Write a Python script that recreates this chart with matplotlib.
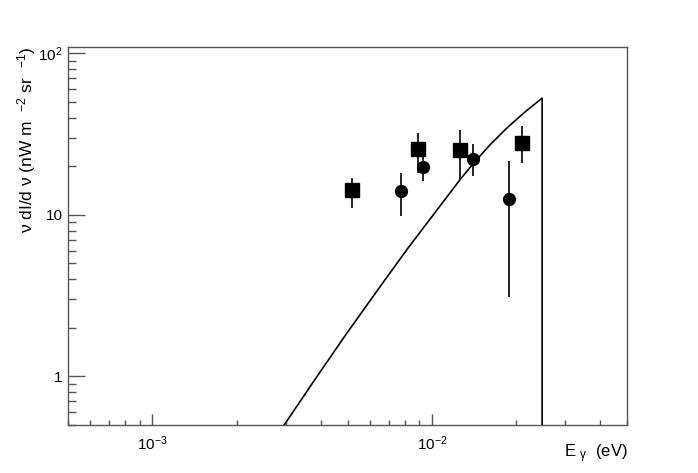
import matplotlib
matplotlib.use('Agg')
import matplotlib.pyplot as plt
import numpy as np
from matplotlib.ticker import LogLocator, FixedLocator, FixedFormatter, NullFormatter

plt.rcParams['font.family'] = ['Liberation Sans', 'DejaVu Sans']
plt.rcParams['mathtext.fontset'] = 'custom'
plt.rcParams['mathtext.rm'] = 'Liberation Sans'
plt.rcParams['mathtext.it'] = 'Liberation Sans'

# model curve (energy in eV, intensity in nW m^-2 sr^-1)
curve_e = [2.96e-3, 3.85e-3, 4.96e-3, 6.32e-3, 8.13e-3, 1.011e-2, 1.263e-2,
           1.409e-2, 1.618e-2, 1.857e-2, 2.16e-2, 2.479e-2, 2.479e-2]
curve_i = [0.5, 0.98, 1.85, 3.33, 6.09, 10.0, 16.6,
           20.9, 27.3, 34.6, 43.6, 52.8, 0.1]

# square points
sq_e = [5.19e-3, 8.95e-3, 1.263e-2, 2.10e-2]
sq_i = [14.3, 25.4, 25.1, 28.0]
sq_hi = [17.0, 32.3, 33.4, 35.5]
sq_lo = [11.05, 18.2, 16.6, 21.0]

# circle points
ci_e = [7.78e-3, 9.31e-3, 1.403e-2, 1.892e-2]
ci_i = [14.0, 19.8, 22.3, 12.5]
ci_hi = [18.2, 23.7, 27.3, 21.7]
ci_lo = [9.8, 16.2, 17.4, 3.12]

fig = plt.figure(figsize=(6.98, 4.73), dpi=100)
ax = fig.add_axes([0.0979, 0.1015, 0.8008, 0.7998])

ax.plot(curve_e, curve_i, color='black', lw=1.2)

def yerr(v, lo, hi):
    v = np.array(v); return [v - np.array(lo), np.array(hi) - v]

ax.errorbar(sq_e, sq_i, yerr=yerr(sq_i, sq_lo, sq_hi), fmt='s', color='black',
            ms=9.5, elinewidth=1.2, capsize=0)
ax.errorbar(ci_e, ci_i, yerr=yerr(ci_i, ci_lo, ci_hi), fmt='o', color='black',
            ms=8.5, elinewidth=1.2, capsize=0)

ax.set_xscale('log')
ax.set_yscale('log')
ax.set_xlim(5e-4, 5e-2)
ax.set_ylim(0.5, 110)

ax.xaxis.set_major_locator(FixedLocator([1e-3, 1e-2]))
ax.xaxis.set_major_formatter(FixedFormatter([r'$\mathregular{10^{-3}}$', r'$\mathregular{10^{-2}}$']))
ax.xaxis.set_minor_locator(LogLocator(base=10, subs=np.arange(2, 10)))
ax.xaxis.set_minor_formatter(NullFormatter())
ax.yaxis.set_major_locator(FixedLocator([1, 10, 100]))
ax.yaxis.set_major_formatter(FixedFormatter(['1', '10', r'$\mathregular{10^{2}}$']))
ax.yaxis.set_minor_locator(LogLocator(base=10, subs=np.arange(2, 10)))
ax.yaxis.set_minor_formatter(NullFormatter())

ax.tick_params(axis='both', which='both', direction='in', colors='#555555',
               labelcolor='black', labelsize=11)
ax.tick_params(axis='x', which='major', length=7.7, width=1, pad=7)
ax.tick_params(axis='x', which='minor', length=3.3, width=1)
ax.tick_params(axis='y', which='major', length=12, width=1, pad=4)
ax.tick_params(axis='y', which='minor', length=5.8, width=1)
ax.tick_params(top=False, right=False, which='both')

for s in ax.spines.values():
    s.set_color('#555555')
    s.set_linewidth(1.0)

ax.set_ylabel(r'ν dI/d ν (nW m  $^{\mathregular{-2}}$ sr  $^{\mathregular{-1}}$)', fontsize=12.5, loc='top')
ax.yaxis.set_label_coords(-0.074, 1.0)
ax.yaxis.label.set_va('center')
ax.set_xlabel(r'E $_{\mathregular{\gamma}}$  (eV)', fontsize=12, loc='right')
ax.xaxis.set_label_coords(1.0, -0.045)
ax.xaxis.label.set_va('top')

fig.savefig('out.png', dpi=100)
